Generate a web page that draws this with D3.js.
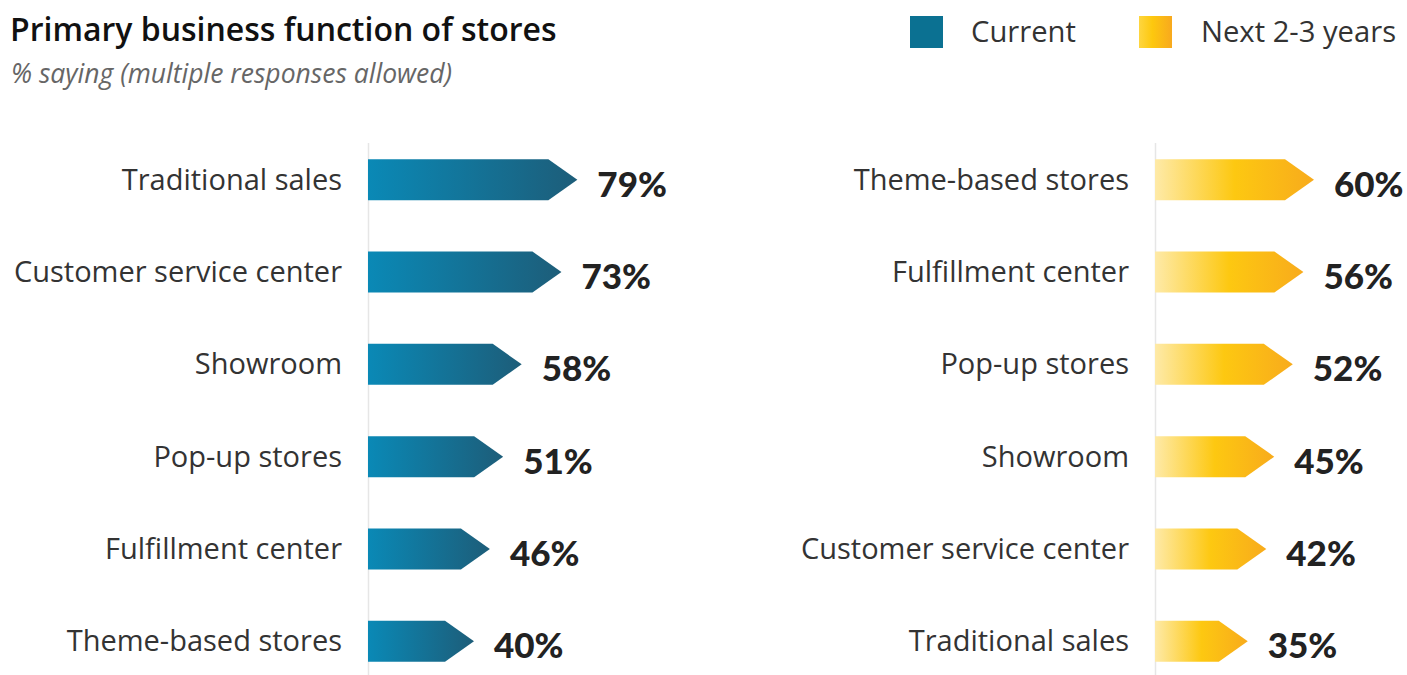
<!DOCTYPE html>
<html><head><meta charset="utf-8">
<script src="https://cdn.jsdelivr.net/npm/d3@7"></script>
<style>
body{margin:0;background:#fff;}
svg{display:block;}
</style></head><body>
<svg id="chart" width="1407" height="675"></svg>
<script>
const currentCategories = ["Traditional sales","Customer service center","Showroom","Pop-up stores","Fulfillment center","Theme-based stores"];
const currentValues = [79,73,58,51,46,40];
const futureCategories = ["Theme-based stores","Fulfillment center","Pop-up stores","Showroom","Customer service center","Traditional sales"];
const futureValues = [60,56,52,45,42,35];
const legendLabels = ["Current","Next 2-3 years"];

const svg = d3.select("#chart");
const defs = svg.append("defs");
const gb = defs.append("linearGradient").attr("id","gBlue").attr("x1","0").attr("x2","1").attr("y1","0").attr("y2","0");
gb.append("stop").attr("offset","0%").attr("stop-color","#0a89b6");
gb.append("stop").attr("offset","100%").attr("stop-color","#1d5d79");
const gy = defs.append("linearGradient").attr("id","gYellow").attr("x1","0").attr("x2","1").attr("y1","0").attr("y2","0");
gy.append("stop").attr("offset","0%").attr("stop-color","#feeaa8");
gy.append("stop").attr("offset","50%").attr("stop-color","#fdc811");
gy.append("stop").attr("offset","100%").attr("stop-color","#f8ab1c");
const gyl = defs.append("linearGradient").attr("id","gYellowLeg").attr("x1","0").attr("x2","1").attr("y1","0").attr("y2","0");
gyl.append("stop").attr("offset","0%").attr("stop-color","#fed640");
gyl.append("stop").attr("offset","40%").attr("stop-color","#fdc80e");
gyl.append("stop").attr("offset","100%").attr("stop-color","#f8a91e");

// title
svg.append("text").attr("x",10).attr("y",41).attr("font-family","Open Sans").attr("font-weight",600)
  .attr("font-size",32).attr("fill","#111").text("Primary business function of stores");
svg.append("text").attr("x",11).attr("y",83).attr("font-family","Open Sans").attr("font-style","italic")
  .attr("font-size",26.5).attr("fill","#666").text("% saying (multiple responses allowed)");

// legend
const leg = svg.append("g");
leg.append("rect").attr("x",910).attr("y",16).attr("width",33).attr("height",32).attr("fill","#0b7192");
leg.append("text").attr("x",971).attr("y",42).attr("font-family","Open Sans").attr("font-size",29.2).attr("fill","#333").text(legendLabels[0]);
leg.append("rect").attr("x",1139).attr("y",16).attr("width",33).attr("height",32).attr("fill","url(#gYellowLeg)");
leg.append("text").attr("x",1201).attr("y",42).attr("font-family","Open Sans").attr("font-size",29.2).attr("fill","#333").text(legendLabels[1]);

function panel(cats, vals, x0, fill){
  const x = d3.scaleLinear().domain([0,100]).range([x0, x0+265]);
  const y = d3.scaleBand().domain(cats).range([134, 687]).paddingInner(0.55).paddingOuter(0.27);
  const g = svg.append("g");
  g.append("line").attr("x1",x0+0.5).attr("x2",x0+0.5).attr("y1",143).attr("y2",675).attr("stroke","#e6e6e6").attr("stroke-width",1.5);
  const bh = 41, head = 29;
  cats.forEach((c,i)=>{
    const v = vals[i];
    const yt = y(c) + (y.bandwidth()-bh)/2;
    const tip = x(v);
    const pts = [[x(0),yt],[tip-head,yt],[tip,yt+bh/2],[tip-head,yt+bh],[x(0),yt+bh]];
    g.append("path").attr("d", d3.line()(pts)+"Z").attr("fill",fill);
    g.append("text").attr("x",x(0)-26).attr("y",yt+bh/2+10).attr("text-anchor","end")
      .attr("font-family","Open Sans").attr("font-size",29).attr("fill","#333").text(c);
    g.append("text").attr("x",tip+20).attr("y",yt+bh/2+17).attr("font-family","Lato").attr("font-weight",900)
      .attr("font-size",35).attr("fill","#222").text(v+"%");
  });
}
panel(currentCategories, currentValues, 368, "url(#gBlue)");
panel(futureCategories, futureValues, 1155, "url(#gYellow)");
</script>
</body></html>
